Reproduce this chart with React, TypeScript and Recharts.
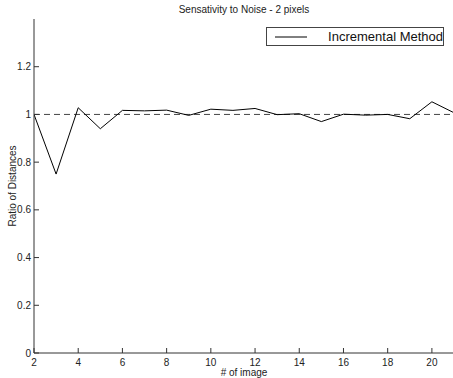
import React from 'react';
import { LineChart, Line, XAxis, YAxis, ReferenceLine, Label } from 'recharts';

const images = [2, 3, 4, 5, 6, 7, 8, 9, 10, 11, 12, 13, 14, 15, 16, 17, 18, 19, 20, 21];
const ratios = [1.0, 0.75, 1.028, 0.94, 1.017, 1.015, 1.018, 0.996, 1.022, 1.017, 1.025, 0.999, 1.003, 0.97, 1.001, 0.997, 1.0, 0.982, 1.053, 1.007];
const xTicks = [2, 4, 6, 8, 10, 12, 14, 16, 18, 20];
const yTicks = [0, 0.2, 0.4, 0.6, 0.8, 1, 1.2];

const data = images.map((img, i) => ({ img, ratio: ratios[i] }));

const font = '"Liberation Sans", Arial, sans-serif';
const axisColor = '#333';
const tickStyle = { fontSize: 10, fill: '#222', fontFamily: font };
const noLabel = () => '';

export default function App() {
    return (
        <div style={{ position: 'absolute', left: 0, top: 0, width: 453, height: 378, overflow: 'hidden', background: '#fff' }}>
            <div style={{ position: 'absolute', left: 34, width: 420, top: 4, textAlign: 'center', fontFamily: font, fontSize: 10, color: '#222' }}>
                Sensativity to Noise - 2 pixels
            </div>
            <LineChart width={455} height={378} data={data} margin={{ top: 19, right: 1, bottom: 0, left: 0 }}>
                <XAxis
                    xAxisId="bottom"
                    dataKey="img"
                    type="number"
                    domain={[2, 21]}
                    ticks={xTicks}
                    interval={0}
                    height={25}
                    tickSize={-5}
                    tickMargin={11}
                    tick={tickStyle}
                    stroke={axisColor}
                    allowDataOverflow
                >
                    <Label value="# of image" position="insideBottom" offset={2} style={{ fontSize: 10, fill: '#222', fontFamily: font }} />
                </XAxis>
                <XAxis
                    xAxisId="top"
                    orientation="top"
                    dataKey="img"
                    type="number"
                    domain={[2, 21]}
                    ticks={xTicks}
                    interval={0}
                    height={0}
                    tickSize={-5}
                    tickFormatter={noLabel}
                    stroke={axisColor}
                />
                <YAxis
                    yAxisId="left"
                    type="number"
                    domain={[0, 1.4]}
                    ticks={yTicks}
                    interval={0}
                    width={34}
                    tickSize={-5}
                    tickMargin={8}
                    tick={tickStyle}
                    stroke={axisColor}
                >
                    <Label value="Ratio of Distances" angle={-90} position="insideLeft" offset={12} style={{ fontSize: 10, fill: '#222', fontFamily: font, textAnchor: 'middle' }} />
                </YAxis>
                <YAxis
                    yAxisId="right"
                    orientation="right"
                    type="number"
                    domain={[0, 1.4]}
                    ticks={yTicks}
                    interval={0}
                    width={0}
                    tickSize={-5}
                    tickFormatter={noLabel}
                    stroke={axisColor}
                />
                <ReferenceLine xAxisId="bottom" yAxisId="left" y={1} stroke="#444" strokeDasharray="6 4" />
                <Line
                    xAxisId="bottom"
                    yAxisId="left"
                    type="linear"
                    dataKey="ratio"
                    name="Incremental Method"
                    stroke="#000"
                    strokeWidth={1}
                    dot={false}
                    isAnimationActive={false}
                />
            </LineChart>
            <div style={{ position: 'absolute', left: 266, top: 27, width: 178, height: 19, border: '1px solid #444', background: '#fff', display: 'flex', alignItems: 'center', boxSizing: 'border-box', fontFamily: font, whiteSpace: 'nowrap' }}>
                <svg width={34} height={10} style={{ marginLeft: 8 }}>
                    <line x1={0} y1={5} x2={34} y2={5} stroke="#000" strokeWidth={1} />
                </svg>
                <span style={{ fontSize: 13, color: '#111', marginLeft: 21 }}>Incremental Method</span>
            </div>
        </div>
    );
}
